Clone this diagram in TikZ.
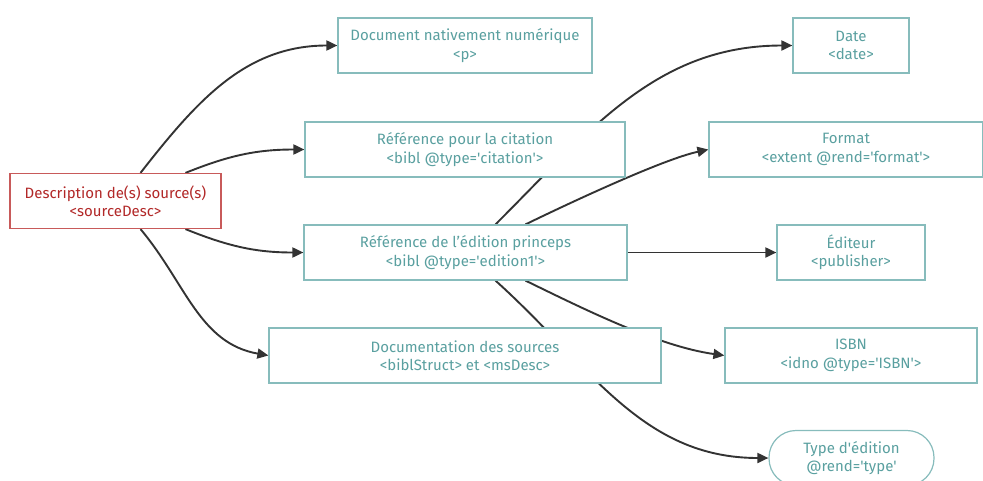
\documentclass[tikz,border=0pt]{standalone}
\usepackage{fontspec}
\setmainfont{Fira Sans}
\usetikzlibrary{arrows.meta}
\pgfdeclarelayer{bg}\pgfsetlayers{bg,main}
\definecolor{tealtxt}{RGB}{90,160,160}
\definecolor{tealbd}{RGB}{135,188,188}
\definecolor{redtxt}{RGB}{178,40,40}
\definecolor{redbd}{RGB}{200,90,90}
\definecolor{linegray}{RGB}{51,51,51}
\newcommand\sq{\textquotesingle}
\begin{document}
\begin{tikzpicture}[x=1pt,y=1pt,
 box/.style={draw=tealbd,fill=white,text=tealtxt,line width=1.2pt,align=center,minimum height=55pt,inner sep=2pt,font=\fontsize{15}{18.5}\selectfont},
 srcbox/.style={box,draw=redbd,text=redtxt},
 arr/.style={draw=linegray,line width=1.9pt,-{Triangle[length=11pt,width=10pt]}}]
\useasboundingbox (0,0) rectangle (983,-480);
\node[srcbox,minimum width=211pt] (S) at (115.5,-201) {Description de(s) source(s)\\<sourceDesc>};
\node[box,minimum width=254pt] (N) at (465,-45.5) {Document nativement numérique\\<p>};
\node[box,minimum width=320pt] (C) at (465,-149.5) {Référence pour la citation\\<bibl @type=\sq citation\sq>};
\node[box,minimum width=323pt] (E) at (465.5,-252.5) {Référence de l’édition princeps\\<bibl @type=\sq edition1\sq>};
\node[box,minimum width=392pt] (M) at (465,-355.5) {Documentation des sources\\<biblStruct> et <msDesc>};
\node[box,minimum width=116pt] (Da) at (851,-45.5) {Date\\<date>};
\node[box,minimum width=274pt] (F) at (846,-149.5) {Format\\<extent @rend=\sq format\sq>};
\node[box,minimum width=148pt] (P) at (851,-252.5) {Éditeur\\<publisher>};
\node[box,minimum width=252pt] (I) at (851,-355.5) {ISBN\\<idno @type=\sq ISBN\sq>};
\node[box,minimum width=165pt,rounded corners=27pt] (T) at (851.5,-458) {Type d\sq édition\\@rend=\sq type\sq};
\begin{pgfonlayer}{bg}
\draw[arr] ([xshift=25pt]S.north) to[out=52,in=180] (N.west);
\draw[arr] ([xshift=70pt]S.north) to[out=22,in=180] (C.west);
\draw[arr] ([xshift=70pt]S.south) to[out=-22,in=180] (E.west);
\draw[arr] ([xshift=25pt]S.south) to[out=-50,in=170] (M.west);
\draw[arr] ([xshift=30pt]E.north) to[out=45,in=180] (Da.west);
\draw[arr] ([xshift=60pt]E.north) to[out=26,in=192,looseness=0.6] (F.west);
\draw[arr] (E.east) -- (P.west);
\draw[arr] ([xshift=60pt]E.south) to[out=-26,in=172,looseness=0.8] (I.west);
\draw[arr] ([xshift=30pt]E.south) to[out=-42,in=180] (T.west);
\end{pgfonlayer}
\end{tikzpicture}
\end{document}
